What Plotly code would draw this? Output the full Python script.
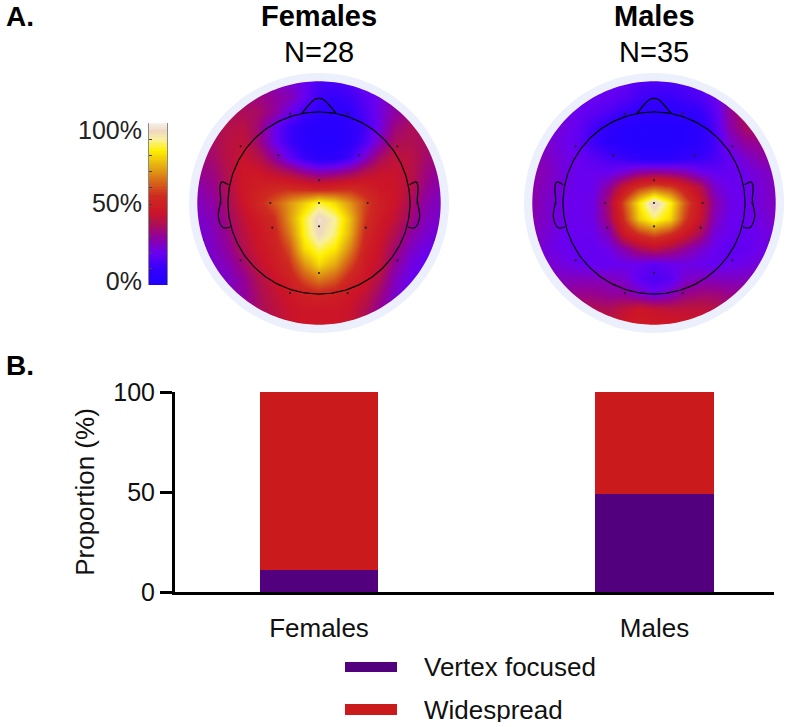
import numpy as np
import plotly.graph_objects as go

W, H = 787, 727
FONT = "Liberation Sans"

# ---------- data ----------
grid_pos = [-1, -0.875, -0.75, -0.625, -0.5, -0.375, -0.25, -0.125, 0,
            0.125, 0.25, 0.375, 0.5, 0.625, 0.75, 0.875, 1]

females_map = [
    [30,30,30,30,28,26,24,20,14,14,16,22,28,30,30,30,30],
    [34,34,34,34,33,30,27,20,12,10,12,17,22,29,32,34,34],
    [36,36,36,37,36,30,21,13, 8, 7, 9,15,22,29,33,35,35],
    [36,36,39,40,34,21,12, 7, 4, 4, 7,13,22,33,37,37,36],
    [34,36,40,42,34,21,12, 6, 3, 3, 7,15,26,37,38,36,34],
    [33,35,40,44,40,30,19,11, 6, 7,13,25,36,42,40,35,32],
    [31,33,39,46,46,42,38,32,28,30,34,40,44,44,40,33,29],
    [28,31,38,46,50,53,54,52,50,52,54,51,46,45,39,31,27],
    [26,29,36,45,53,61,70,78,86,80,70,59,50,45,36,28,25],
    [24,27,34,42,48,55,70,85,97,90,76,57,48,42,33,26,24],
    [23,26,32,40,46,52,66,84,95,88,74,54,46,38,29,24,22],
    [22,25,30,38,45,50,60,80,87,82,68,51,44,34,25,21,20],
    [22,24,27,34,42,48,55,70,80,73,60,48,42,30,22,19,19],
    [24,23,25,30,38,44,50,60,67,62,52,46,38,26,20,18,19],
    [27,26,26,29,36,42,46,50,52,50,46,42,33,24,20,20,21],
    [30,30,30,30,36,40,44,46,46,46,44,38,30,24,22,22,24],
    [32,32,32,32,36,40,44,46,46,46,44,38,32,26,24,24,26],
]
males_map = [
    [20,20,20,20,20,20,19,16,15,15,16,18,22,26,30,32,32],
    [20,20,20,20,20,19,17,13,11,11,13,15,20,28,34,36,36],
    [22,22,22,20,18,15,11, 8, 6, 6, 8,10,17,30,38,38,38],
    [22,22,22,19,13, 8, 4, 3, 2, 2, 3, 6,15,28,36,38,36],
    [26,24,21,18,12, 6, 3, 2, 2, 2, 3, 6,13,24,30,32,32],
    [28,25,22,20,17,14,11, 7, 5, 6, 9,11,14,19,24,28,30],
    [28,26,22,20,20,20,24,30,32,31,28,22,19,19,21,24,26],
    [28,25,22,20,20,30,46,58,64,60,50,40,24,20,20,23,26],
    [28,24,21,20,21,36,60,82,98,84,62,46,28,21,20,23,26],
    [27,24,21,20,21,34,56,78,87,80,58,44,26,20,20,22,25],
    [26,23,20,20,20,26,46,56,62,56,46,36,22,20,19,21,23],
    [25,22,20,19,19,21,28,36,40,36,30,24,20,18,19,21,22],
    [26,24,22,20,19,19,20,20,18,20,21,20,19,20,21,23,25],
    [28,27,26,26,26,26,24,18,15,17,24,26,26,25,26,28,28],
    [30,30,31,32,32,30,30,26,22,26,32,34,34,32,32,32,32],
    [32,32,34,38,38,38,42,46,44,42,42,42,40,36,34,34,34],
    [34,34,36,40,40,42,46,48,47,47,46,44,42,38,36,36,36],
]
sensor_x = [-.238, .236, -.644, .644, -.334, .332, 0, -.40, 0, .40, -.384, 0, .384,
            -.644, .644, 0, -.238, .236, -.805, .805, -.95, .95]
sensor_y = [.734, .734, .466, .466, .392, .392, .186, 0, 0, 0, -.203, -.192, -.203,
            -.471, -.471, -.575, -.74, -.74, 0, 0, -.307, -.307]
nose_x = [-.142, -.07, -.03, 0, .03, .07, .142]
nose_y = [.734, .82, .855, .86, .855, .82, .734]
ear_x = [.745, .80, .814, .808, .827, .786, .732]
ear_y = [.15, .173, .13, .022, -.115, -.203, -.197]

groups = ["Females", "Males"]
group_n = ["N=28", "N=35"]
vertex_focused = [11, 49]
widespread = [89, 51]
series_names = ["Vertex focused", "Widespread"]
series_colors = ["#52007D", "#CB1A1C"]
bar_ticks = [0, 50, 100]

cbar_levels = list(range(0, 101))
cbar_tick_pos = [2.5, 50.5, 95.5]
cbar_tick_text = ["0%", "50%", "100%"]
cbar_minor = [10, 20, 30, 40, 50, 60, 70, 80, 90]

colorscale = [
    [0.00, "#2000FF"], [0.10, "#3400FB"], [0.20, "#6A00F0"], [0.30, "#92009A"],
    [0.38, "#B00F50"], [0.45, "#CC1428"], [0.55, "#CE2A20"], [0.65, "#D87018"],
    [0.75, "#E8B810"], [0.83, "#FFF000"], [0.90, "#F8F0A0"], [0.95, "#F0D8C0"],
    [1.00, "#F6F2EE"],
]

# ---------- layout helpers ----------
def px_x(p): return p / W
def px_y(p): return 1 - p / H

fig = go.Figure()
R_DISC, R_RING = 121.7, 130.0
lim = R_RING / R_DISC
HEAD_R = 0.748
theta = np.linspace(0, 2 * np.pi, 241)

def circle_path(r):
    pts = [f"{'M' if i == 0 else 'L'}{r*np.cos(t):.4f},{r*np.sin(t):.4f}" for i, t in enumerate(theta)]
    return "".join(pts) + "Z"

def ring_path(r_in, r_out):
    return circle_path(r_out) + circle_path(r_in)

def corner_path(r, box):
    return f"M{-box},{-box}L{box},{-box}L{box},{box}L{-box},{box}Z" + circle_path(r)

layout_extra = {}
shapes, annotations = [], []
centers = [(319.0, 203.0), (654.0, 203.0)]
maps = [females_map, males_map]

for k, (cx, cy) in enumerate(centers):
    ax = k + 1
    xa, ya = f"x{ax}", f"y{ax}"
    layout_extra[f"xaxis{ax}"] = dict(domain=[px_x(cx - R_RING), px_x(cx + R_RING)], range=[-lim, lim],
                                      visible=False, fixedrange=True, anchor=ya)
    layout_extra[f"yaxis{ax}"] = dict(domain=[px_y(cy + R_RING), px_y(cy - R_RING)], range=[-lim, lim],
                                      visible=False, fixedrange=True, anchor=xa)
    fig.add_trace(go.Heatmap(x=grid_pos, y=grid_pos[::-1], z=maps[k], zmin=0, zmax=100,
                             colorscale=colorscale, zsmooth="best", showscale=False,
                             xaxis=xa, yaxis=ya, name=groups[k]))
    line = dict(color="black", width=1.2)
    fig.add_trace(go.Scatter(x=HEAD_R * np.cos(theta), y=HEAD_R * np.sin(theta), mode="lines", line=line,
                             xaxis=xa, yaxis=ya, showlegend=False, hoverinfo="skip"))
    fig.add_trace(go.Scatter(x=nose_x, y=nose_y, mode="lines", line=dict(color="black", width=1.2, shape="spline"),
                             xaxis=xa, yaxis=ya, showlegend=False, hoverinfo="skip"))
    for sgn in (-1, 1):
        fig.add_trace(go.Scatter(x=[sgn * v for v in ear_x], y=ear_y, mode="lines",
                                 line=dict(color="black", width=1.2, shape="spline"),
                                 xaxis=xa, yaxis=ya, showlegend=False, hoverinfo="skip"))
    fig.add_trace(go.Scatter(x=sensor_x, y=sensor_y, mode="markers", marker=dict(color="#222222", size=2.2),
                             xaxis=xa, yaxis=ya, showlegend=False, hoverinfo="skip"))
    shapes.append(dict(type="path", xref=xa, yref=ya, path=corner_path(lim - 0.03, lim + 0.05), fillcolor="white",
                       line=dict(width=0), layer="above"))
    shapes.append(dict(type="path", xref=xa, yref=ya, path=ring_path(1.0, lim), fillcolor="#ECF0FC",
                       line=dict(width=0), layer="above"))
    annotations.append(dict(text=f"<b>{groups[k]}</b>", x=px_x(cx), y=px_y(16), xref="paper", yref="paper",
                            showarrow=False, xanchor="center", yanchor="middle", height=30,
                            font=dict(family=FONT, size=29, color="black")))
    annotations.append(dict(text=group_n[k], x=px_x(cx), y=px_y(52), xref="paper", yref="paper",
                            showarrow=False, xanchor="center", yanchor="middle",
                            font=dict(family=FONT, size=29, color="black")))

# colour scale bar
fig.add_trace(go.Heatmap(x=[0], y=cbar_levels, z=[[v] for v in cbar_levels], zmin=0, zmax=100,
                         colorscale=colorscale, showscale=False, zsmooth=False,
                         xaxis="x3", yaxis="y3", hoverinfo="skip"))
layout_extra["xaxis3"] = dict(domain=[px_x(149), px_x(167)], range=[-0.5, 0.5], visible=False,
                              fixedrange=True, anchor="y3")
layout_extra["yaxis3"] = dict(domain=[px_y(285), px_y(123)], range=[0, 100], anchor="x3", side="left",
                              tickvals=cbar_tick_pos, ticktext=cbar_tick_text, ticks="", ticklabelstandoff=1,
                              tickfont=dict(family=FONT, size=25, color="#222222"), showgrid=False, zeroline=False,
                              showline=True, linecolor="#8A8A8A", linewidth=1, mirror=True, fixedrange=True,
                              minor=dict(tickvals=cbar_minor, ticks="inside", ticklen=3, tickwidth=1,
                                         tickcolor="#444444"))

# stacked bars
BAR_X0, BAR_X1 = 175, 774
for name, vals, col in zip(series_names, [vertex_focused, widespread], series_colors):
    fig.add_trace(go.Bar(x=groups, y=vals, name=name, marker=dict(color=col, line=dict(width=0)),
                         width=0.352, xaxis="x4", yaxis="y4", showlegend=False))
unit = 335.5
layout_extra["xaxis4"] = dict(domain=[px_x(BAR_X0), px_x(BAR_X1)], type="category", categoryorder="array",
                              categoryarray=groups, range=[-(319 - BAR_X0) / unit, (BAR_X1 - 319) / unit],
                              anchor="y4", showline=True, linecolor="black", linewidth=3, ticks="",
                              tickfont=dict(family=FONT, size=26, color="#111111"), ticklabelstandoff=11,
                              showgrid=False, zeroline=False, fixedrange=True)
layout_extra["yaxis4"] = dict(domain=[px_y(592), px_y(392)], range=[0, 100], anchor="x4", tickvals=bar_ticks,
                              ticks="outside", ticklen=12, tickwidth=3, tickcolor="black",
                              showline=True, linecolor="black", linewidth=3,
                              tickfont=dict(family=FONT, size=25, color="#111111"),
                              title=dict(text="Proportion (%)", standoff=12, font=dict(family=FONT, size=26, color="#111111")),
                              showgrid=False, zeroline=False, fixedrange=True)

# legend drawn in figure pixels
for (name, col, y0, y1) in zip(series_names, series_colors, [662, 704], [672, 715]):
    shapes.append(dict(type="rect", xref="paper", yref="paper", x0=px_x(345), x1=px_x(397),
                       y0=px_y(y1), y1=px_y(y0), fillcolor=col, line=dict(width=0)))
    annotations.append(dict(text=name, x=px_x(422), y=px_y((y0 + y1) / 2), xref="paper", yref="paper",
                            showarrow=False, xanchor="left", yanchor="middle", height=24,
                            font=dict(family=FONT, size=26, color="#111111")))

for txt, yy in [("A.", 16), ("B.", 365)]:
    annotations.append(dict(text=f"<b>{txt}</b>", x=px_x(4), y=px_y(yy), xref="paper", yref="paper",
                            showarrow=False, xanchor="left", yanchor="middle", height=30,
                            font=dict(family=FONT, size=28, color="black")))

fig.update_layout(width=W, height=H, margin=dict(l=0, r=0, t=0, b=0, autoexpand=False), paper_bgcolor="white", plot_bgcolor="white",
                  barmode="stack", showlegend=False, shapes=shapes, annotations=annotations, **layout_extra)
fig.write_html("out.html", config=dict(displayModeBar=False),
               post_script="document.body.style.margin='0';document.documentElement.style.overflow='hidden';")
